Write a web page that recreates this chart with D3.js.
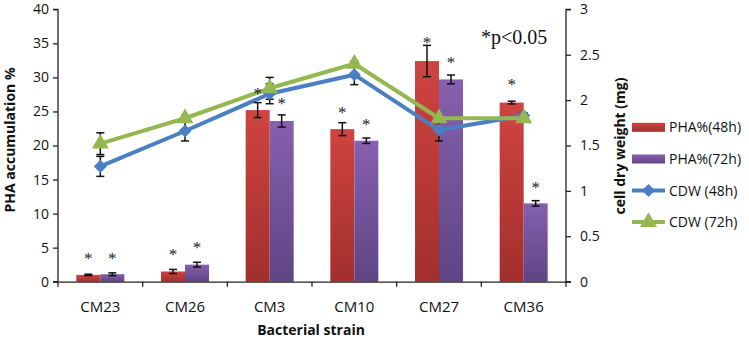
<!DOCTYPE html>
<html><head><meta charset="utf-8">
<script src="https://cdn.jsdelivr.net/npm/d3@7"></script>
<style>body{margin:0;background:#fff}svg{display:block}</style>
</head><body><svg id="c" width="749" height="339"></svg>
<script>
const categories = ["CM23","CM26","CM3","CM10","CM27","CM36"];
const pha48 = [1.0, 1.5, 25.2, 22.4, 32.4, 26.3];
const pha48Err = [0.1, 0.3, 1.1, 0.95, 2.3, 0.2];
const pha72 = [1.1, 2.5, 23.6, 20.7, 29.7, 11.5];
const pha72Err = [0.2, 0.35, 0.9, 0.4, 0.65, 0.4];
const star48 = [3.9, 4.55, 28.1, 25.4, 35.6, 29.4];
const star72 = [3.9, 5.5, 26.7, 23.6, 32.7, 14.4];
const cdw48 = [1.27, 1.66, 2.07, 2.28, 1.67, 1.83];
const cdw48Err = [0.11, 0.11, 0.11, 0.11, 0.12, 0.03];
const cdw72 = [1.52, 1.80, 2.13, 2.40, 1.80, 1.80];
const cdw72Err = [0.12, 0.03, 0.12, 0.03, 0.03, 0.03];
const leftTicks = [0,5,10,15,20,25,30,35,40];
const rightTicks = [0,0.5,1,1.5,2,2.5,3];
const rightTickLabels = ["0","0.5","1","1.5","2","2.5","3"];
const legendLabels = ["PHA%(48h)","PHA%(72h)","CDW (48h)","CDW (72h)"];

const svg = d3.select("#c");
const L = 58, R = 566, T = 9.3, B = 281.7;
const x = d3.scaleBand().domain(categories).range([L, R]).padding(0);
const xs = d3.scaleBand().domain(["48","72"]).range([0, x.bandwidth()]).paddingInner(0).paddingOuter(0.764);
const y = d3.scaleLinear().domain([0, 40]).range([B, T]);
const y2 = d3.scaleLinear().domain([0, 3]).range([B, T]);
const font = "'Open Sans', sans-serif";

const defs = svg.append("defs");
function grad(id, c1, c2){
  const g = defs.append("linearGradient").attr("id", id).attr("x1",0).attr("y1",0).attr("x2",0).attr("y2",1);
  g.append("stop").attr("offset","0%").attr("stop-color",c1);
  g.append("stop").attr("offset","100%").attr("stop-color",c2);
}
grad("gRed", "#cf4441", "#a22f2c");
grad("gPur", "#8660ae", "#5f4585");

const series = [
  {k:"48", v:pha48, e:pha48Err, s:star48, fill:"url(#gRed)"},
  {k:"72", v:pha72, e:pha72Err, s:star72, fill:"url(#gPur)"}
];
series.forEach(s => {
  svg.append("g").selectAll("rect").data(categories).join("rect")
    .attr("x", (c) => x(c) + xs(s.k))
    .attr("width", xs.bandwidth())
    .attr("y", (c,i) => y(s.v[i]))
    .attr("height", (c,i) => y(0) - y(s.v[i]))
    .attr("fill", s.fill);
});

const axL = svg.append("g").attr("transform", `translate(${L},0)`)
  .call(d3.axisLeft(y).tickValues(leftTicks).tickSize(5).tickPadding(4));
const axR = svg.append("g").attr("transform", `translate(${R},0)`)
  .call(d3.axisRight(y2).tickValues(rightTicks).tickFormat((d,i)=>rightTickLabels[i]).tickSize(5).tickPadding(9));
[axL, axR].forEach(a => {
  a.select(".domain").attr("stroke","#222").attr("stroke-width",1.3);
  a.selectAll(".tick line").attr("stroke","#222").attr("stroke-width",1.3);
  a.selectAll("text").attr("font-family",font).attr("font-size",14).attr("fill","#111");
});
axL.select(".domain").attr("d", `M-5,${T}H0V${B}H-5`);
axR.select(".domain").attr("d", `M5,${T}H0V${B}H5`);

const xAxis = svg.append("g").attr("transform", `translate(0,${B})`)
  .call(d3.axisBottom(x).tickSize(0).tickPadding(20));
xAxis.select(".domain").attr("stroke","#222").attr("stroke-width",1.3);
xAxis.selectAll("text").attr("font-family",font).attr("font-size",15).attr("fill","#111");
const bounds = categories.map(c => x(c)).concat([R]);
xAxis.append("g").selectAll("line").data(bounds).join("line")
  .attr("x1", d=>d).attr("x2", d=>d).attr("y1",0).attr("y2",5)
  .attr("stroke","#222").attr("stroke-width",1.3);

const cx = c => x(c) + x.bandwidth()/2;
const lineSeries = [
  {v:cdw48, e:cdw48Err, color:"#4a7fc1", shape:d3.symbolSquare, size:85, rot:45},
  {v:cdw72, e:cdw72Err, color:"#94b84f", shape:d3.symbolTriangle, size:125, rot:0}
];

function errBars(xf, vals, errs, sc){
  const g = svg.append("g").attr("stroke","#111").attr("stroke-width",1.5);
  categories.forEach((c,i) => {
    const xx = xf(c), y1 = sc(vals[i]+errs[i]), y0 = sc(vals[i]-errs[i]);
    g.append("line").attr("x1",xx).attr("x2",xx).attr("y1",y1).attr("y2",y0);
    g.append("line").attr("x1",xx-4).attr("x2",xx+4).attr("y1",y1).attr("y2",y1);
    g.append("line").attr("x1",xx-4).attr("x2",xx+4).attr("y1",y0).attr("y2",y0);
  });
}

lineSeries.forEach(s => {
  const line = d3.line().x((c)=>cx(c)).y((c,i)=>y2(s.v[i]));
  svg.append("path").datum(categories).attr("d", line)
    .attr("fill","none").attr("stroke", s.color).attr("stroke-width",4).attr("stroke-linejoin","round");
});
lineSeries.forEach(s => errBars(cx, s.v, s.e, y2));
lineSeries.forEach(s => {
  svg.append("g").selectAll("path").data(categories).join("path")
    .attr("transform", (c,i) => `translate(${cx(c)},${y2(s.v[i])}) rotate(${s.rot})`)
    .attr("d", d3.symbol().type(s.shape).size(s.size))
    .attr("fill", s.color);
});

series.forEach(s => errBars(c => x(c)+xs(s.k)+xs.bandwidth()/2, s.v, s.e, y));

series.forEach(s => {
  svg.append("g").selectAll("text").data(categories).join("text")
    .attr("x", c => x(c)+xs(s.k)+xs.bandwidth()/2)
    .attr("y", (c,i) => y(s.s[i]) + 9)
    .attr("text-anchor","middle")
    .attr("font-family","'Liberation Serif', 'Times New Roman', serif")
    .attr("font-size",17).attr("fill","#222").text("*");
});

svg.append("text").attr("x",481).attr("y",43.5)
  .attr("font-family","'Liberation Serif', 'Times New Roman', serif")
  .attr("font-size",20).attr("fill","#111").text("*p<0.05");

svg.append("text").attr("transform","translate(15,140) rotate(-90)")
  .attr("text-anchor","middle").attr("font-family",font).attr("font-weight","bold")
  .attr("font-size",14).attr("fill","#111").text("PHA accumulation %");
svg.append("text").attr("transform","translate(625,146) rotate(-90)")
  .attr("text-anchor","middle").attr("font-family",font).attr("font-weight","bold")
  .attr("font-size",14).attr("fill","#111").text("cell dry weight (mg)");
svg.append("text").attr("x",311).attr("y",335)
  .attr("text-anchor","middle").attr("font-family",font).attr("font-weight","bold")
  .attr("font-size",14).attr("fill","#111").text("Bacterial strain");

const legY = [127.3, 159, 190.5, 222];
const lg = svg.append("g");
const lx0 = 632, lx1 = 665;
lg.append("rect").attr("x",lx0).attr("y",legY[0]-4.5).attr("width",lx1-lx0).attr("height",9).attr("fill","url(#gRed)");
lg.append("rect").attr("x",lx0).attr("y",legY[1]-4.5).attr("width",lx1-lx0).attr("height",9).attr("fill","url(#gPur)");
lineSeries.forEach((s,i) => {
  const yy = legY[2+i];
  lg.append("line").attr("x1",lx0).attr("x2",lx1).attr("y1",yy).attr("y2",yy)
    .attr("stroke",s.color).attr("stroke-width",4);
  lg.append("path").attr("transform",`translate(${(lx0+lx1)/2},${yy}) rotate(${s.rot})`)
    .attr("d", d3.symbol().type(s.shape).size(s.size)).attr("fill",s.color);
});
lg.selectAll("text").data(legendLabels).join("text")
  .attr("x", 669).attr("y", (d,i)=>legY[i]+5)
  .attr("font-family",font).attr("font-size",14).attr("fill","#111").text(d=>d);
</script></body></html>
